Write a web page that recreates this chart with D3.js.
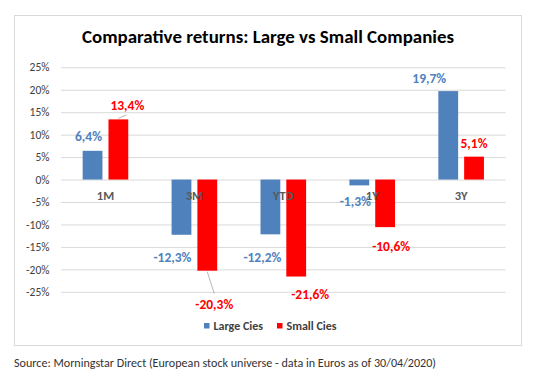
<!DOCTYPE html>
<html>
<head>
<meta charset="utf-8">
<script src="https://cdn.jsdelivr.net/npm/d3@7"></script>
<style>
  body { margin: 0; background: #fff; }
  text { font-family: Carlito, Calibri, Lato, sans-serif; }
</style>
</head>
<body>
<div id="chart"></div>
<script>
// Data
var categories = ["1M", "3M", "YTD", "1Y", "3Y"];
var seriesNames = ["Large Cies", "Small Cies"];
var largeCies = [6.4, -12.3, -12.2, -1.3, 19.7];
var smallCies = [13.4, -20.3, -21.6, -10.6, 5.1];
var yTicks = [-25, -20, -15, -10, -5, 0, 5, 10, 15, 20, 25];

// Layout
var w = 543, h = 384;
var colors = { "Large Cies": "#4f81bd", "Small Cies": "#ff0000" };

// label nudges (px) per series, per category
var nudge = {
  "Large Cies": [[-4, 0], [-9, 4], [-8, 5], [-4, -2], [-19, 2]],
  "Small Cies": [[9, 0], [7, 16], [14, 0], [6, 1], [0, 1]]
};

var svg = d3.select("#chart").append("svg")
  .attr("width", w).attr("height", h);

// chart frame
svg.append("rect")
  .attr("x", 14.5).attr("y", 15.5)
  .attr("width", 507).attr("height", 330)
  .attr("fill", "#fff").attr("stroke", "#d9d9d9");

svg.append("text")
  .attr("x", 268).attr("y", 43)
  .attr("text-anchor", "middle")
  .attr("font-size", 17).attr("font-weight", "bold")
  .attr("fill", "#000")
  .attr("textLength", 372).attr("lengthAdjust", "spacingAndGlyphs")
  .text("Comparative returns: Large vs Small Companies");

var x = d3.scaleBand().domain(categories).range([61, 505.6]);
var xSub = d3.scaleBand().domain(seriesNames).range([0, x.bandwidth()])
  .paddingInner(0.233).paddingOuter(0.839);
var y = d3.scaleLinear().domain([-25, 25]).range([291.8, 67.3]);

// gridlines
svg.append("g")
  .attr("transform", "translate(61,0)")
  .call(d3.axisLeft(y).tickValues(yTicks).tickSize(-444.6).tickFormat(""))
  .call(function(g) {
    g.select(".domain").remove();
    g.selectAll("line").attr("stroke", "#d9d9d9");
  });

// y labels
svg.append("g")
  .attr("transform", "translate(61,0)")
  .call(d3.axisLeft(y).tickValues(yTicks).tickSize(0).tickPadding(11.5)
    .tickFormat(function(d) { return d + "%"; }))
  .call(function(g) {
    g.select(".domain").remove();
    g.selectAll("text").attr("font-size", 11.5).attr("fill", "#404040")
      .attr("font-family", "Carlito, Calibri, Lato, sans-serif");
  });

var rows = [];
categories.forEach(function(c, i) {
  rows.push({ cat: c, i: i, s: "Large Cies", v: largeCies[i] });
  rows.push({ cat: c, i: i, s: "Small Cies", v: smallCies[i] });
});

svg.selectAll("rect.bar")
  .data(rows)
  .enter()
  .append("rect")
  .attr("class", "bar")
  .attr("x", function(d) { return x(d.cat) + xSub(d.s); })
  .attr("width", xSub.bandwidth())
  .attr("y", function(d) { return y(Math.max(0, d.v)); })
  .attr("height", function(d) { return Math.abs(y(d.v) - y(0)); })
  .attr("fill", function(d) { return colors[d.s]; });

// category labels
svg.selectAll("text.cat")
  .data(categories)
  .enter()
  .append("text")
  .attr("class", "cat")
  .attr("x", function(d) { return x(d) + x.bandwidth() / 2; })
  .attr("y", 200)
  .attr("text-anchor", "middle")
  .attr("font-size", 12.5).attr("font-weight", "bold")
  .attr("fill", "#595959")
  .text(function(d) { return d; });

function labelPos(d) {
  var n = nudge[d.s][d.i];
  var cx = x(d.cat) + xSub(d.s) + xSub.bandwidth() / 2 + n[0];
  var cy = d.v >= 0 ? y(d.v) - 14.5 : y(d.v) + 18;
  return [cx, cy + n[1]];
}

// leader lines for labels pushed away from their bar
svg.selectAll("line.leader")
  .data(rows.filter(function(d) { return (d.s === "Small Cies" && (d.i === 0 || d.i === 1)); }))
  .enter()
  .append("line")
  .attr("class", "leader")
  .attr("x1", function(d) { return x(d.cat) + xSub(d.s) + xSub.bandwidth() / 2; })
  .attr("y1", function(d) { return y(d.v) + (d.v >= 0 ? -1 : 1); })
  .attr("x2", function(d) { return labelPos(d)[0] - (d.v >= 0 ? 1 : 0); })
  .attr("y2", function(d) { return labelPos(d)[1] + (d.v >= 0 ? 10 : -11); })
  .attr("stroke", "#a6a6a6").attr("stroke-width", 0.8);

svg.selectAll("text.val")
  .data(rows)
  .enter()
  .append("text")
  .attr("class", "val")
  .attr("x", function(d) { return labelPos(d)[0]; })
  .attr("y", function(d) { return labelPos(d)[1]; })
  .attr("dy", "0.35em")
  .attr("text-anchor", "middle")
  .attr("font-size", 13.5).attr("font-weight", "bold")
  .attr("fill", function(d) { return colors[d.s]; })
  .text(function(d) { return d.v.toFixed(1).replace(".", ",") + "%"; });

// legend
var legendX = [204, 277];
var legend = svg.selectAll("g.leg")
  .data(seriesNames)
  .enter()
  .append("g")
  .attr("class", "leg")
  .attr("transform", function(d, i) { return "translate(" + legendX[i] + ",326)"; });

legend.append("rect")
  .attr("x", 0).attr("y", -3)
  .attr("width", 5.5).attr("height", 5.5)
  .attr("fill", function(d) { return colors[d]; });

legend.append("text")
  .attr("x", 9.5).attr("dy", "0.35em")
  .attr("font-size", 12).attr("font-weight", "bold")
  .attr("fill", "#404040")
  .text(function(d) { return d; });

svg.append("text")
  .attr("x", 14).attr("y", 363).attr("dy", "0.35em")
  .attr("font-size", 11.5).attr("fill", "#333")
  .attr("textLength", 422).attr("lengthAdjust", "spacingAndGlyphs")
  .text("Source: Morningstar Direct (European stock universe - data in Euros as of 30/04/2020)");
</script>
</body>
</html>
